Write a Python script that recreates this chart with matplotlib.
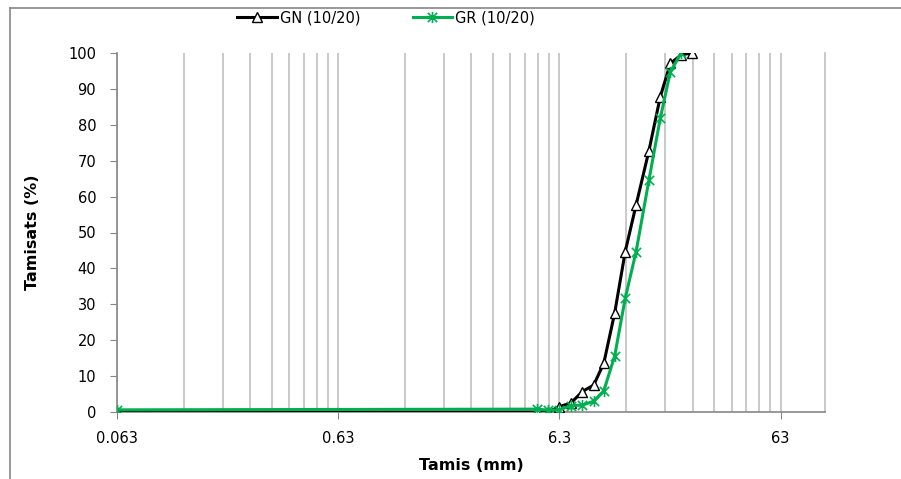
import numpy as np
import matplotlib
matplotlib.use("Agg")
import matplotlib.pyplot as plt
from matplotlib.path import Path
from matplotlib.lines import Line2D

# sieve sizes (mm) and passing percentages
gn_tamis = [0.063, 5, 5.6, 6.3, 7.1, 8, 9, 10, 11.2, 12.5, 14, 16, 18, 20, 22.4, 25]
gn_pass = [0, 0, 0, 1.5, 2.5, 5.7, 7.5, 13.6, 27.6, 44.7, 57.7, 72.8, 87.8, 97.1, 99.5, 100]

gr_tamis = [0.063, 5, 5.6, 6.3, 7.1, 8, 9, 10, 11.2, 12.5, 14, 16, 18, 20, 22.4]
gr_pass = [0.6, 0.8, 0.5, 0.6, 1.8, 1.9, 3.0, 5.9, 15.6, 31.7, 44.7, 64.6, 81.8, 94.8, 100]

xtick_vals = [0.063, 0.63, 6.3, 63]
xtick_labels = ["0.063", "0.63", "6.3", "63"]
yticks = list(range(0, 101, 10))

GREEN = "#00b050"
GRID = "#c0c0c0"
AXC = "#868686"

# excel-like star marker: x plus vertical bar
star = Path([(-1, -1), (1, 1), (-1, 1), (1, -1), (0, -1.2), (0, 1.2)],
            [Path.MOVETO, Path.LINETO, Path.MOVETO, Path.LINETO, Path.MOVETO, Path.LINETO])

plt.rcParams['font.family'] = ['DejaVu Sans']

fig = plt.figure(figsize=(9.01, 4.79), dpi=100)
ax = fig.add_axes([117 / 901, (479 - 412) / 479, 708 / 901, 359 / 479])

# outer chart border, only top and left edges are inside the picture
bx, by = 10 / 901, 1 - 8 / 479
fig.add_artist(Line2D([bx, 1.05], [by, by], transform=fig.transFigure, color=AXC, lw=1.2))
fig.add_artist(Line2D([bx, bx], [by, -0.05], transform=fig.transFigure, color=AXC, lw=1.2))

ax.plot(gn_tamis, gn_pass, color="black", lw=2.2, marker="^", ms=7.5,
        mfc="white", mec="black", mew=1.0, label="GN (10/20)", zorder=3)
ax.plot(gr_tamis, gr_pass, color=GREEN, lw=2.2, marker=star, ms=8,
        mfc=GREEN, mec=GREEN, mew=1.2, label="GR (10/20)", zorder=4)

ax.set_xscale("log")
ax.set_xlim(0.063, 100)
ax.set_ylim(0, 100)

minor = [k * 0.063 * 10 ** n for n in range(4) for k in range(2, 10) if k * 0.063 * 10 ** n < 100]
ax.set_xticks(xtick_vals)
ax.set_xticklabels(xtick_labels)
ax.set_xticks(minor, minor=True)
ax.set_xticklabels([], minor=True)
ax.set_yticks(yticks)

ax.grid(which="both", axis="x", color=GRID, lw=1.2)
ax.set_axisbelow(True)

ax.tick_params(axis="both", which="major", direction="out", length=5, color=AXC,
               labelsize=10.5, pad=9)
ax.tick_params(axis="x", which="minor", length=0)
ax.tick_params(axis="y", pad=10)

for s in ["left", "bottom"]:
    ax.spines[s].set_color(AXC)
    ax.spines[s].set_linewidth(1.2)
ax.spines["right"].set_color(GRID)
ax.spines["right"].set_linewidth(1.2)
ax.spines["top"].set_visible(False)

ax.set_xlabel("Tamis (mm)", fontsize=11.5, fontweight="bold", labelpad=8)
ax.set_ylabel("Tamisats (%)", fontsize=11.5, fontweight="bold", labelpad=20)

fig.legend(loc="center", bbox_to_anchor=(386 / 901, 1 - 18 / 479), ncol=2, frameon=False,
           fontsize=10.5, handlelength=2.7, handletextpad=0.2, columnspacing=3.6)

fig.savefig("out.png", dpi=100)
